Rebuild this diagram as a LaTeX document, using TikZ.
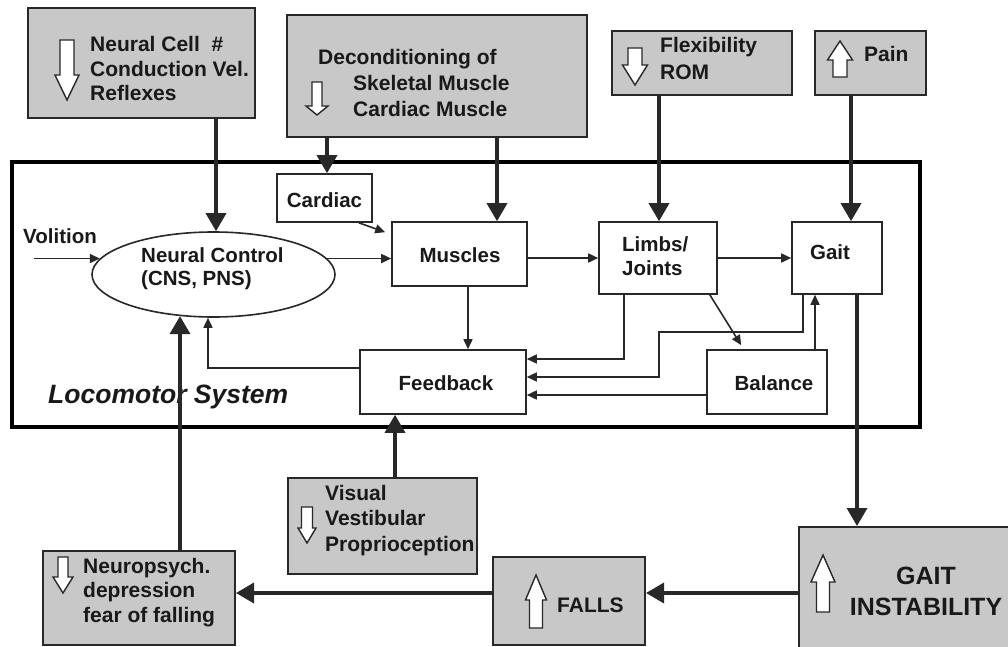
\documentclass[tikz,border=0pt]{standalone}
\usepackage{fontspec}
\setmainfont{Liberation Sans}
\usetikzlibrary{shapes.geometric,arrows.meta,fit,calc}
\definecolor{boxgray}{RGB}{200,200,200}
\definecolor{ink}{RGB}{40,40,40}
\definecolor{txt}{RGB}{25,25,25}
\newcommand\stk[2]{\vtop{\baselineskip=#1pt\lineskiplimit=-99pt\lineskip=0pt\halign{##\hfil\cr#2\crcr}}}
\newcommand\cstk[2]{\vtop{\baselineskip=#1pt\lineskiplimit=-99pt\lineskip=0pt\halign{\hfil##\hfil\cr#2\crcr}}}
\newcommand\blockarrow[6]{%
  \draw[hollow] ({#1-#5},#2) -- ({#1+#5},#2) -- ({#1+#5},#3) -- ({#1+#6},#3) -- (#1,#4) -- ({#1-#6},#3) -- ({#1-#5},#3) -- cycle;}
\begin{document}
\begin{tikzpicture}[x=1pt,y=-1pt,
  gbox/.style={draw=ink, line width=2pt, fill=boxgray, inner sep=0pt},
  wbox/.style={draw=ink, line width=1.6pt, fill=white, inner sep=0pt},
  lbl/.style={font=\bfseries\fontsize{21}{24}\selectfont, text=txt, inner sep=0pt},
  ilbl/.style={font=\bfseries\fontsize{20.5}{24}\selectfont, text=txt, inner sep=0pt},
  hollow/.style={draw=ink, line width=1.4pt, fill=white, line join=miter},
  thk/.style={draw=ink, line width=3.5pt, -{Triangle[length=18pt,width=20pt]}},
  thn/.style={draw=ink, line width=1.6pt, -{Triangle[length=10pt,width=9pt]}},
]
\useasboundingbox (0,0) rectangle (1008,647);

% frame
\node[draw=black, line width=4pt, inner sep=0pt, fit={(12,162) (920,427)}] (loco) {};
\node[font=\bfseries\itshape\fontsize{26.5}{30}\selectfont, text=txt, inner sep=0pt, anchor=base west] (locoT) at (48,403) {Locomotor System};

% grey boxes
\node[gbox, fit={(28,8) (255,118)}] (ncell) {};
\node[gbox, fit={(287,15) (587,137)}] (decond) {};
\node[gbox, fit={(612,31) (792,95)}] (flex) {};
\node[gbox, fit={(815,31) (926,95)}] (pain) {};
\node[gbox, fit={(288,478) (477,574)}] (visual) {};
\node[gbox, fit={(43,551) (235,645)}] (neuro) {};
\node[gbox, fit={(493,557) (645,645)}] (falls) {};
\node[gbox, fit={(799,527) (1020,660)}] (instab) {};

% grey box texts
\node[lbl, anchor=base west] (ncellT) at (90,52) {\stk{24.5}{Neural Cell\ \ \#\cr Conduction Vel.\cr Reflexes}};
\node[lbl, anchor=base west] (decondT) at (318,65) {\stk{26}{Deconditioning of\cr\hskip35pt Skeletal Muscle\cr\hskip35pt Cardiac Muscle}};
\node[lbl, anchor=base west] (flexT) at (660,53) {\stk{27}{Flexibility\cr ROM}};
\node[lbl, anchor=base west] (painT) at (864,62) {Pain};
\node[lbl, anchor=base west] (visualT) at (325,500) {\stk{25.5}{Visual\cr Vestibular\cr Proprioception}};
\node[lbl, anchor=base west] (neuroT) at (83,573) {\stk{24.5}{Neuropsych.\cr depression\cr fear of falling}};
\node[lbl, anchor=base west] (fallsT) at (557,612) {FALLS};
\node[lbl, font=\bfseries\fontsize{25}{30}\selectfont, anchor=base] (instabT) at (926,584) {\cstk{31}{GAIT\cr INSTABILITY}};

% hollow block arrows
\blockarrow{67}{40}{75}{100}{7}{12}
\blockarrow{317}{82}{106}{115}{5}{11}
\blockarrow{635}{48}{65}{85}{7}{12.5}
\blockarrow{840}{77}{60}{41}{7}{12.5}
\blockarrow{307}{507}{528}{543}{5.5}{9}
\blockarrow{63}{557}{577}{593}{5}{10}
\blockarrow{536}{628}{600}{575}{6.5}{10.5}
\blockarrow{823}{612}{582}{555}{6.5}{12}

% inner nodes
\node[draw=ink, line width=1.6pt, fill=white, ellipse, minimum width=243pt, minimum height=85pt, inner sep=0pt] (nc) at (213.5,274.5) {};
\node[wbox, fit={(277,174) (372,222)}] (cardiac) {};
\node[wbox, fit={(392,222) (527,286)}] (muscles) {};
\node[wbox, fit={(599,222) (717,294)}] (limbs) {};
\node[wbox, fit={(792,222) (882,294)}] (gait) {};
\node[wbox, fit={(707,350) (827,414)}] (balance) {};
\node[wbox, fit={(360,350) (526,414)}] (feedback) {};

\node[ilbl, anchor=base west] (volT) at (23,243) {Volition};
\node[ilbl, anchor=base west] (ncT) at (141,262) {\stk{23}{Neural Control\cr (CNS, PNS)}};
\node[ilbl, anchor=base] (cardiacT) at (324.5,207) {Cardiac};
\node[ilbl, anchor=base] (musclesT) at (460,262) {Muscles};
\node[ilbl, anchor=base west] (limbsT) at (622,251) {\stk{24}{Limbs/\cr Joints}};
\node[ilbl, anchor=base] (gaitT) at (830,259) {Gait};
\node[ilbl, anchor=base] (balanceT) at (774,390) {Balance};
\node[ilbl, anchor=base] (feedbackT) at (446,390) {Feedback};

% coordinates for connector positions
\coordinate (xA) at (216,0);
\coordinate (xB) at (327,0);
\coordinate (xC) at (497,0);
\coordinate (xD) at (659,0);
\coordinate (xE) at (851,0);
\coordinate (xF) at (857,0);
\coordinate (xG) at (395,0);
\coordinate (xH) at (180,0);
\coordinate (yI) at (0,593);
\coordinate (volS) at (34,0);
\coordinate (xM) at (468,0);
\coordinate (xL) at (624,0);
\coordinate (yL) at (0,359);
\coordinate (xGt) at (803,0);
\coordinate (yG1) at (0,332);
\coordinate (xJ) at (659,0);
\coordinate (yG2) at (0,377);
\coordinate (xBg) at (815,0);
\coordinate (yB) at (0,395);
\coordinate (yF) at (0,368);
\coordinate (xFb) at (208,0);

% thick connectors
\draw[thk] (ncell.south -| xA) -- (nc.north -| xA);
\draw[thk] (decond.south -| xB) -- (cardiac.north -| xB);
\draw[thk] (decond.south -| xC) -- (muscles.north -| xC);
\draw[thk] (flex.south -| xD) -- (limbs.north -| xD);
\draw[thk] (pain.south -| xE) -- (gait.north -| xE);
\draw[thk] (gait.south -| xF) -- (instab.north -| xF);
\draw[thk] (visual.north -| xG) -- (feedback.south -| xG);
\draw[thk] (neuro.north -| xH) -- (xH |- nc.231);
\draw[thk] (instab.west |- yI) -- (falls.east |- yI);
\draw[thk] (falls.west |- yI) -- (neuro.east |- yI);

% thin connectors
\draw[thn] (nc.172 -| volS) -- (nc.172);
\draw[thn] (nc.8) -- (nc.8 -| muscles.west);
\draw[thn] (muscles.east |- limbs.west) -- (limbs.west);
\draw[thn] (limbs.east) -- (gait.west);
\draw[thn] ($(cardiac.south east)+(-14,0)$) -- ($(muscles.north west)+(-6,11)$);
\draw[thn] (muscles.south -| xM) -- (feedback.north -| xM);
\draw[thn] ($(limbs.south east)+(-8,0)$) -- ($(balance.north west)+(35,-4)$);
\draw[thn] (limbs.south -| xL) |- (feedback.east |- yL);
\draw[thn] (gait.south -| xGt) -- (xGt |- yG1) -- (xJ |- yG1) -- (xJ |- yG2) -- (feedback.east |- yG2);
\draw[thn] (balance.north -| xBg) -- (gait.south -| xBg);
\draw[thn] (balance.west |- yB) -- (feedback.east |- yB);
\draw[thn] (feedback.west |- yF) -| (nc.south -| xFb);
\end{tikzpicture}
\end{document}
